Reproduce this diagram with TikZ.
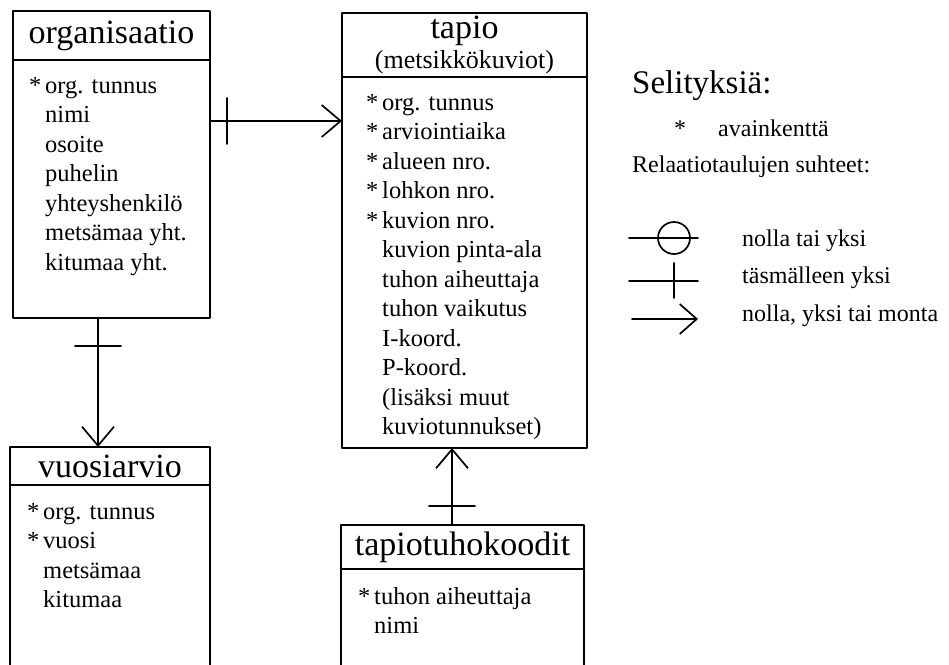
\documentclass[tikz,border=0pt]{standalone}
\usepackage{fontspec}
\setmainfont{Liberation Serif}
\usetikzlibrary{positioning,arrows.meta,decorations.markings}

\newcommand{\pk}{\llap{\makebox[16pt][l]{*}}}

\begin{document}
\begin{tikzpicture}[x=1pt,y=-1pt,line cap=round,line join=round,>={Straight Barb[length=19pt,width=32pt]}]
\tikzset{
  tabhead/.style={draw,line width=2pt,outer sep=0pt,inner sep=0pt,anchor=north west,font=\fontsize{34}{38}\selectfont},
  tabbody/.style={draw,line width=2pt,outer sep=0pt,inner sep=0pt,below=0pt of #1},
  fieldtxt/.style={anchor=base west,inner sep=0pt,font=\fontsize{24.5}{29}\selectfont},
  legtxt/.style={anchor=base west,inner sep=0pt,font=\fontsize{24}{29}\selectfont},
  link/.style={line width=1.7pt},
  onebar/.style={postaction={decorate,decoration={markings,
    mark=at position #1 with {\draw[-,line width=1.7pt] (0,-23) -- (0,23);}}}}
}
\def\rowh{29.5}

\useasboundingbox (0,0) rectangle (949,664);
\clip (0,0) rectangle (949,664);

% organisaatio
\node[tabhead,minimum width=197,minimum height=49] (org) at (13,11) {organisaatio};
\node[tabbody=org,minimum width=197,minimum height=258] (orgbox) {};
\foreach \f [count=\i] in {\pk org. tunnus,nimi,osoite,puhelin,yhteyshenkilö,metsämaa yht.,kitumaa yht.}
  \node[fieldtxt] (orgf\i) at ([shift={(32,\i*\rowh+3.5)}]orgbox.north west) {\f};

% tapio
\node[tabhead,minimum width=245,minimum height=64,align=center] (tap) at (342,13)
  {tapio\\[-8pt]{\fontsize{26}{29}\selectfont(metsikkökuviot)}};
\node[tabbody=tap,minimum width=245,minimum height=371] (tapbox) {};
\foreach \f [count=\i] in {\pk org. tunnus,\pk arviointiaika,\pk alueen nro.,\pk lohkon nro.,\pk kuvion nro.,
    kuvion pinta-ala,tuhon aiheuttaja,tuhon vaikutus,I-koord.,P-koord.,{(lisäksi muut},{kuviotunnukset)}}
  \node[fieldtxt] (tapf\i) at ([shift={(40,\i*\rowh+3.5)}]tapbox.north west) {\f};

% vuosiarvio
\node[tabhead,minimum width=200,minimum height=38] (vuo) at (10,447) {vuosiarvio};
\node[tabbody=vuo,minimum width=200,minimum height=200] (vuobox) {};
\foreach \f [count=\i] in {\pk org. tunnus,\pk vuosi,metsämaa,kitumaa}
  \node[fieldtxt] (vuof\i) at ([shift={(33,\i*\rowh+4.5)}]vuobox.north west) {\f};

% tapiotuhokoodit
\node[tabhead,minimum width=243,minimum height=44] (tuho) at (341,525) {tapiotuhokoodit};
\node[tabbody=tuho,minimum width=243,minimum height=150] (tuhobox) {};
\foreach \f [count=\i] in {\pk tuhon aiheuttaja,nimi}
  \node[fieldtxt] (tuhof\i) at ([shift={(33,\i*\rowh+5.5)}]tuhobox.north west) {\f};

% relations
\draw[link,->,onebar=17pt] ([yshift=-61pt]orgbox.north east) coordinate (r1) -- (r1 -| tapbox.west);
\draw[link,->,onebar=28pt] ([xshift=-13.5pt]orgbox.south) coordinate (r2) -- (r2 |- vuo.north);
\draw[link,->,onebar=19pt] ([xshift=-10.5pt]tuho.north) coordinate (r3) -- (r3 |- tapbox.south);

% legend
\node[anchor=base west,inner sep=0pt,font=\fontsize{33}{38}\selectfont] (sel) at (632,93) {Selityksiä:};
\node[legtxt] (star) at (674,136) {*};
\node[legtxt] (avain) at (718,136) {avainkenttä};
\node[legtxt] (rel) at (632,172) {Relaatiotaulujen suhteet:};
\foreach \t/\y [count=\i] in {nolla tai yksi/246,täsmälleen yksi/283,{nolla, yksi tai monta}/321}
  \node[legtxt] (leg\i) at (742,\y) {\t};
\draw[link] (629,238) -- (698,238) (674,238) circle[radius=16pt];
\draw[link] (629,281) -- (698,281) (674,263) -- (674,298);
\draw[link,-{Straight Barb[length=17pt,width=30pt]}] (632,319) -- (698,319);

\end{tikzpicture}
\end{document}
